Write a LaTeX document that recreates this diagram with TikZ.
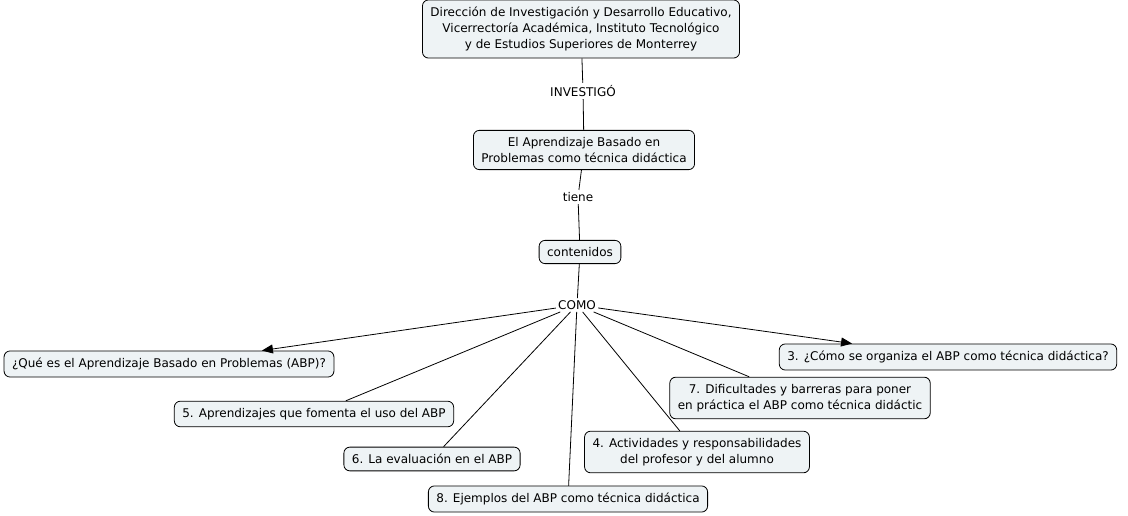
\documentclass[tikz,border=0pt]{standalone}
\usepackage{fontspec}
\setmainfont{DejaVu Sans}
\usetikzlibrary{arrows.meta}
\definecolor{boxfill}{HTML}{EEF3F5}

\begin{document}
\begin{tikzpicture}[x=1pt,y=-1pt,line width=0.8pt,
  concept/.style={draw,rounded corners=6pt,fill=boxfill,align=center,
    inner xsep=8pt,inner ysep=7pt,font=\fontsize{12}{16}\selectfont},
  linkword/.style={inner sep=2pt,font=\fontsize{12}{16}\selectfont}]
\useasboundingbox (0,0) rectangle (1128,516);
\node[concept] (dir) at (581,29) {Dirección de Investigación y Desarrollo Educativo,\\Vicerrectoría Académica, Instituto Tecnológico\\y de Estudios Superiores de Monterrey};
\node[linkword] (inv) at (583,91) {INVESTIGÓ};
\node[concept] (abp) at (584,150) {El Aprendizaje Basado en\\Problemas como técnica didáctica};
\node[linkword] (tiene) at (578,197) {tiene};
\node[concept] (cont) at (580,252) {contenidos};
\node[linkword] (como) at (577,305) {COMO};
\node[concept] (que) at (169,364) {¿Qué es el Aprendizaje Basado en Problemas (ABP)?};
\node[concept] (c5) at (314,414) {5. Aprendizajes que fomenta el uso del ABP};
\node[concept] (c6) at (432,459) {6. La evaluación en el ABP};
\node[concept] (c8) at (568,499) {8. Ejemplos del ABP como técnica didáctica};
\node[concept] (c4) at (697,452) {4. Actividades y responsabilidades\\del profesor y del alumno};
\node[concept] (c7) at (800,398) {7. Dificultades y barreras para poner\\en práctica el ABP como técnica didáctic};
\node[concept] (c3) at (948,357) {3. ¿Cómo se organiza el ABP como técnica didáctica?};
\path[draw]
(dir) -- (inv) -- (abp)
(abp) -- (tiene) -- (cont)
(cont) -- (como)
(como) edge (c5)
(como) edge (c6)
(como) edge (c8)
(como) edge (c4)
(como) edge (c7);
\path[-{Triangle[length=11pt,width=9pt]}]
(como) edge (que)
(como) edge (c3);
\end{tikzpicture}
\end{document}
